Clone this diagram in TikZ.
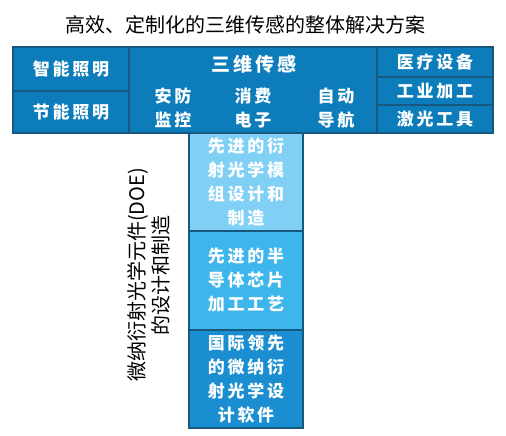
\documentclass[tikz,border=0pt]{standalone}
\usepackage{fontspec}
\setmainfont{Noto Sans CJK SC}
\newfontfamily\cellfont{Noto Sans CJK SC}[LetterSpace=16]
\usepackage{xcolor}
\usetikzlibrary{positioning}
\definecolor{uBar}{HTML}{0C7DBA}
\definecolor{uEdge}{HTML}{17587E}
\definecolor{uTopCol}{HTML}{80D0F6}
\definecolor{uMidCol}{HTML}{3EB6EC}
\definecolor{uLowCol}{HTML}{1A8ED0}
\tikzset{
  cell/.style={draw=uEdge, line width=1.3pt, fill=uBar, text=white,
               align=center, inner sep=0pt, font=\cellfont\bfseries\fontsize{17}{24}\selectfont},
  wide/.style={cell, minimum width=116pt},
  tier/.style={cell, minimum width=114pt, minimum height=98pt},
  sub/.style={text=white, align=center, inner sep=0pt,
              font=\cellfont\bfseries\fontsize{17}{24}\selectfont},
  caption/.style={font=\fontsize{20}{24}\selectfont, inner sep=0pt},
}

\begin{document}
\begin{tikzpicture}[x=1pt, y=1pt]
\useasboundingbox (0,0) rectangle (506,-436);

%% ── title ────────────────────────────────────────────────────────────────
\node[caption] (title) at (245,-25) {高效、定制化的三维传感的整体解决方案};

%% ── top bar: lighting | 3D sensing | applications ────────────────────────
\node[wide, minimum height=44pt] (smart)  at (71,-69)   {智能照明};
\node[wide, minimum height=42pt] (saving) at (71,-112)  {节能照明};
\node[cell, minimum width=248pt, minimum height=86pt] (sensing) at (253,-90) {};
\node[sub, font=\cellfont\bfseries\fontsize{19}{24}\selectfont] (sensetitle) at (254,-64) {三维传感};
\node[sub] (security) at (173,-108) {安防\\监控};
\node[sub] (consumer) at (253,-108) {消费\\电子};
\node[sub] (autonav)  at (336,-108) {自动\\导航};
\node[wide, minimum height=30pt] (medical)  at (435,-62)  {医疗设备};
\node[wide, minimum height=28pt] (industry) at (435,-91)  {工业加工};
\node[wide, minimum height=28pt] (laser)    at (435,-119) {激光工具};
\draw[uEdge, line width=1.3pt] (smart.north west) rectangle (laser.south east);

%% ── the DOE column below the bar ─────────────────────────────────────────
\node[tier, fill=uTopCol] (module)   at (246,-182)   {先进的衍\\射光学模\\组设计和\\制造};
\node[tier, fill=uMidCol] (chip)     at (246,-280.5) {先进的半\\导体芯片\\加工工艺};
\node[tier, fill=uLowCol] (software) at (246,-379)   {国际领先\\的微纳衍\\射光学设\\计软件};

\node[caption, rotate=90, align=center] (doe) at (149,-275)
  {微纳衍射光学元件(DOE)\\的设计和制造};

\end{tikzpicture}
\end{document}
